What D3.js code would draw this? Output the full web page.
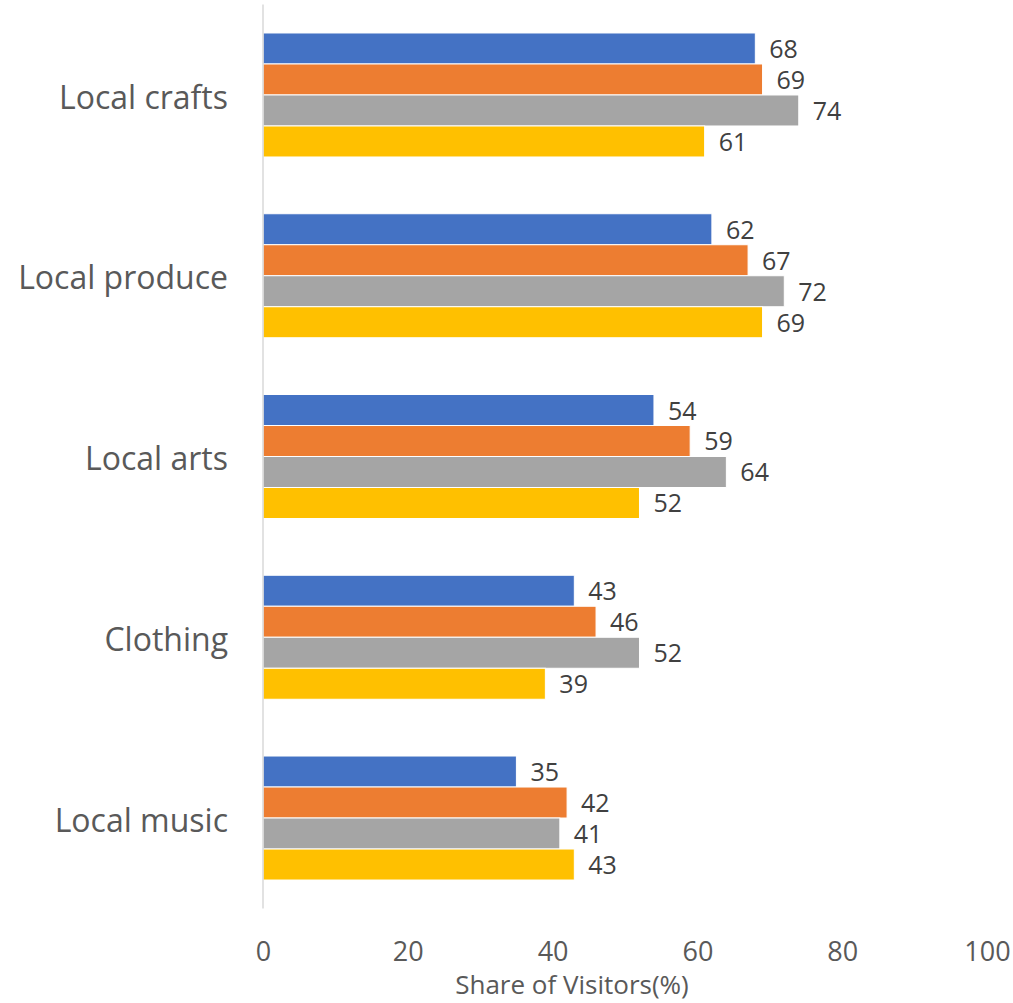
<!DOCTYPE html>
<html>
<head>
<meta charset="utf-8">
<script src="https://cdn.jsdelivr.net/npm/d3@7"></script>
<style>
body { margin: 0; background: #fff; }
text { font-family: "Open Sans", "Noto Sans", sans-serif; }
</style>
</head>
<body>
<svg id="chart" width="1013" height="1003"></svg>
<script>
// data
var categories = ["Local crafts", "Local produce", "Local arts", "Clothing", "Local music"];
var seriesNames = ["Series 1", "Series 2", "Series 3", "Series 4"];
var series1 = [68, 62, 54, 43, 35];
var series2 = [69, 67, 59, 46, 42];
var series3 = [74, 72, 64, 52, 41];
var series4 = [61, 69, 52, 39, 43];
var xTicks = [0, 20, 40, 60, 80, 100];
var colors = ["#4472c4", "#ed7d31", "#a5a5a5", "#ffc000"];

var allSeries = [series1, series2, series3, series4];
var svg = d3.select("#chart");

var x = d3.scaleLinear().domain([0, 100]).range([263, 987]);
var y = d3.scaleBand().domain(categories).range([4.6, 908.4])
    .paddingInner(0.314).paddingOuter(0.157);
var ySub = d3.scaleBand().domain(seriesNames).range([0, y.bandwidth()]);

// bars
var groups = svg.append("g").selectAll("g")
    .data(categories)
    .enter().append("g")
    .attr("transform", function(d) { return "translate(0," + y(d) + ")"; });

groups.selectAll("rect")
    .data(function(d, i) {
	return allSeries.map(function(s, j) { return {s: seriesNames[j], v: s[i], c: colors[j]}; });
    })
    .enter().append("rect")
    .attr("x", x(0))
    .attr("y", function(d) { return ySub(d.s); })
    .attr("width", function(d) { return x(d.v) - x(0); })
    .attr("height", ySub.bandwidth())
    .attr("fill", function(d) { return d.c; })
    .attr("stroke", "#fff")
    .attr("stroke-width", 1);

// value labels
groups.selectAll("text.val")
    .data(function(d, i) {
	return allSeries.map(function(s, j) { return {s: seriesNames[j], v: s[i]}; });
    })
    .enter().append("text")
    .attr("class", "val")
    .attr("x", function(d) { return x(d.v) + 14; })
    .attr("y", function(d) { return ySub(d.s) + ySub.bandwidth() / 2; })
    .attr("dy", "0.38em")
    .attr("fill", "#404040")
    .style("font-size", "25px")
    .text(function(d) { return d.v; });

// y axis line + category labels
svg.append("line")
    .attr("x1", x(0)).attr("x2", x(0))
    .attr("y1", 4.6).attr("y2", 908.4)
    .attr("stroke", "#d9d9d9")
    .attr("stroke-width", 1.5);

svg.append("g").selectAll("text")
    .data(categories)
    .enter().append("text")
    .attr("x", 228)
    .attr("y", function(d) { return y(d) + y.bandwidth() / 2 + 2; })
    .attr("dy", "0.36em")
    .attr("text-anchor", "end")
    .attr("fill", "#595959")
    .style("font-size", "32px")
    .text(function(d) { return d; });

// x axis ticks (no line)
var xAxis = d3.axisBottom(x).tickValues(xTicks).tickSize(0).tickPadding(0);
var gx = svg.append("g").attr("transform", "translate(0,942)").call(xAxis);
gx.select(".domain").remove();
gx.selectAll("text")
    .attr("fill", "#595959")
    .style("font-size", "27px")
    .style("font-family", "'Open Sans', 'Noto Sans', sans-serif");

svg.append("text")
    .attr("x", 572)
    .attr("y", 994)
    .attr("text-anchor", "middle")
    .attr("fill", "#595959")
    .style("font-size", "26px")
    .text("Share of Visitors(%)");
</script>
</body>
</html>
